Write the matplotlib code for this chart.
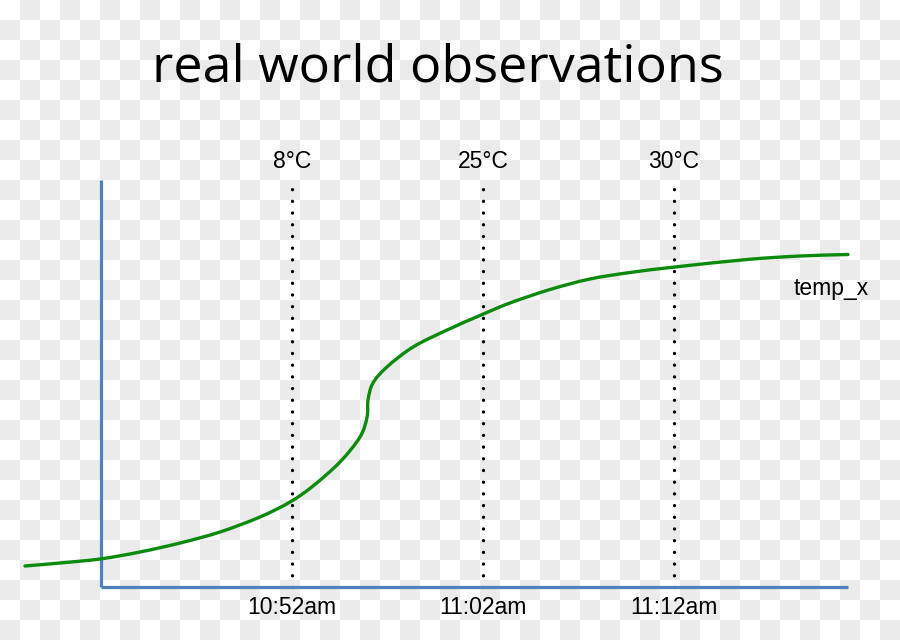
import numpy as np
import matplotlib
matplotlib.use("Agg")
import matplotlib.pyplot as plt
from matplotlib.path import Path
from matplotlib.patches import PathPatch

# ---- data (minutes since ~10:42, temperature-like units) ----
curve_t = [-3.98, -2.15, -0.05, 2.04, 4.14, 6.23, 8.32, 9.90, 11.10, 12.51,
           13.56, 13.93, 13.98, 14.24, 14.97, 16.34, 18.12, 19.90,
           21.41, 23.51, 25.60, 27.70, 30.05, 33.82, 36.60, 39.11]
curve_y = [2.1, 2.4, 2.8, 3.5, 4.4, 5.5, 7.0, 8.5, 10.1, 12.5,
           15.0, 17.0, 18.7, 20.4, 22.0, 24.0, 25.7, 27.2,
           28.4, 29.75, 30.8, 31.45, 32.0, 32.75, 33.1, 33.25]
obs_t = [10, 20, 30]
obs_temp_labels = ["8°C", "25°C", "30°C"]
obs_time_labels = ["10:52am", "11:02am", "11:12am"]
series_label = "temp_x"
title = "real world observations"

W, H = 900, 640
fig = plt.figure(figsize=(W / 100, H / 100), dpi=100)
fig.patch.set_facecolor("white")

# checkerboard background (transparency display)
sq = 20
rows, cols = np.indices((H, W)) // sq
checker = np.where((rows + cols) % 2 == 1, 235, 255).astype(np.uint8)
img = np.stack([checker] * 3, axis=-1)
fig.figimage(img, xo=0, yo=0, origin="upper", zorder=-1)

ax = fig.add_axes([0, 0, 1, 1])
ax.patch.set_alpha(0)
ax.axis("off")
px_per_min = 19.1
px_per_unit = 10.0
x0_px, y0_px = 101, 587
ax.set_xlim(-x0_px / px_per_min, (W - x0_px) / px_per_min)
ax.set_ylim(-(H - y0_px) / px_per_unit, y0_px / px_per_unit)

x_end = (848 - x0_px) / px_per_min
y_top = (y0_px - 180) / px_per_unit

blue = "#4f81bd"
ax.plot([0, 0], [0, y_top], color=blue, lw=2.3, solid_capstyle="butt", zorder=3)
ax.plot([0, x_end], [0, 0], color=blue, lw=2.3, solid_capstyle="butt", zorder=3)

for t, tl, ml in zip(obs_t, obs_temp_labels, obs_time_labels):
    ax.plot([t, t], [0, y_top], color="black", lw=2.4,
            linestyle=(0, (0.01, 3.5)), dash_capstyle="round", zorder=2)
    ax.text(t, y_top + 1.85, tl, ha="center", va="center", fontsize=16.5,
            family="Liberation Sans", color="black")
    ax.text(t, -2.0, ml, ha="center", va="center", fontsize=16.5,
            family="Liberation Sans", color="black")

# smooth curve through the read points (Catmull-Rom -> cubic Bezier)
P = np.column_stack([curve_t, curve_y])
ext = np.vstack([2 * P[0] - P[1], P, 2 * P[-1] - P[-2]])
verts = [tuple(P[0])]
codes = [Path.MOVETO]
for i in range(1, len(ext) - 2):
    p0, p1, p2, p3 = ext[i - 1], ext[i], ext[i + 1], ext[i + 2]
    c1 = p1 + (p2 - p0) / 6.0
    c2 = p2 - (p3 - p1) / 6.0
    verts += [tuple(c1), tuple(c2), tuple(p2)]
    codes += [Path.CURVE4] * 3
ax.add_patch(PathPatch(Path(verts, codes), fill=False, edgecolor="#0c8a0c",
                       lw=2.4, capstyle="round", joinstyle="round", zorder=4))

ax.text((831 - x0_px) / px_per_min, (y0_px - 288) / px_per_unit, series_label,
        ha="center", va="center", fontsize=16.5, family="Liberation Sans")

fig.text(438 / W, 1 - 68 / H, title, ha="center", va="center",
         fontsize=37.5, family="Open Sans", color="black", zorder=5)

fig.savefig("out.png", dpi=100)
